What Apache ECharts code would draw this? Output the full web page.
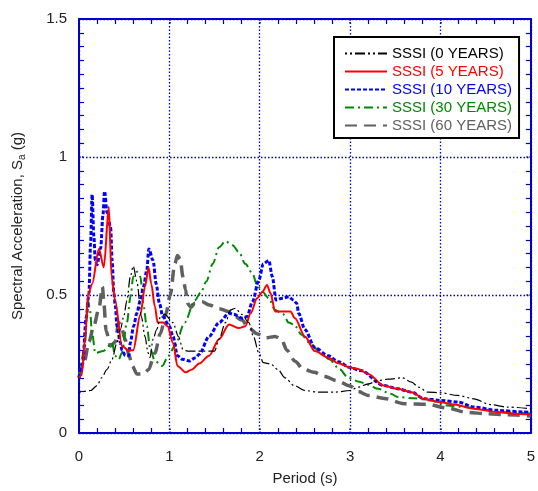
<!DOCTYPE html>
<html><head><meta charset="utf-8">
<script src="https://cdn.jsdelivr.net/npm/echarts@6/dist/echarts.min.js"></script>
<style>html,body{margin:0;padding:0;background:#fff}#c{width:538px;height:491px}</style>
</head><body><div id="c"></div>
<script>
const xTicks = [0, 1, 2, 3, 4, 5];
const yTicks = [0, 0.5, 1, 1.5];
const seriesNames = ['SSSI (0 YEARS)', 'SSSI (5 YEARS)', 'SSSI (10 YEARS)', 'SSSI (30 YEARS)', 'SSSI (60 YEARS)'];

const sssi0 = [[0,0.147],[0.13,0.154],[0.2,0.172],[0.25,0.2],[0.31,0.23],[0.365,0.267],[0.42,0.327],[0.458,0.375],[0.495,0.422],[0.53,0.48],[0.568,0.566],[0.6,0.605],[0.64,0.55],[0.69,0.422],[0.73,0.35],[0.765,0.29],[0.785,0.273],[0.82,0.34],[0.86,0.375],[0.9,0.42],[0.95,0.43],[1.04,0.40],[1.1,0.35],[1.15,0.303],[1.2,0.297],[1.35,0.297],[1.5,0.297],[1.55,0.34],[1.62,0.40],[1.68,0.446],[1.73,0.452],[1.8,0.43],[1.88,0.40],[1.93,0.35],[1.99,0.29],[2.04,0.255],[2.12,0.25],[2.2,0.23],[2.28,0.2],[2.38,0.172],[2.5,0.154],[2.65,0.148],[2.83,0.148],[3.0,0.154],[3.09,0.166],[3.2,0.178],[3.31,0.19],[3.42,0.195],[3.58,0.2],[3.68,0.184],[3.76,0.166],[3.86,0.148],[4.0,0.146],[4.19,0.136],[4.37,0.124],[4.55,0.103],[4.74,0.094],[5.0,0.088]];

const sssi5 = [[0,0.2],[0.03,0.21],[0.07,0.35],[0.1,0.5],[0.145,0.54],[0.22,0.667],[0.275,0.6],[0.33,0.82],[0.36,0.566],[0.4,0.48],[0.475,0.315],[0.55,0.3],[0.6,0.3],[0.68,0.43],[0.73,0.53],[0.77,0.6],[0.8,0.54],[0.84,0.458],[0.87,0.4],[0.93,0.4],[0.98,0.387],[1.04,0.327],[1.09,0.243],[1.18,0.22],[1.25,0.23],[1.33,0.252],[1.44,0.28],[1.55,0.34],[1.66,0.393],[1.77,0.38],[1.84,0.387],[1.9,0.434],[1.97,0.488],[2.03,0.512],[2.08,0.536],[2.12,0.506],[2.17,0.44],[2.26,0.44],[2.34,0.44],[2.39,0.416],[2.5,0.35],[2.61,0.297],[2.76,0.273],[2.87,0.253],[3.0,0.237],[3.09,0.232],[3.2,0.214],[3.37,0.172],[3.53,0.16],[3.68,0.148],[3.82,0.124],[3.99,0.112],[4.15,0.103],[4.37,0.088],[4.63,0.076],[4.81,0.07],[5.0,0.067]];

const sssi10 = [[0,0.2],[0.04,0.25],[0.08,0.42],[0.11,0.506],[0.128,0.685],[0.145,0.864],[0.165,0.71],[0.18,0.626],[0.2,0.61],[0.24,0.67],[0.265,0.79],[0.283,0.876],[0.31,0.8],[0.35,0.745],[0.367,0.625],[0.385,0.506],[0.403,0.458],[0.42,0.387],[0.458,0.327],[0.475,0.3],[0.513,0.28],[0.55,0.28],[0.568,0.327],[0.604,0.387],[0.64,0.434],[0.678,0.48],[0.714,0.53],[0.75,0.59],[0.773,0.667],[0.82,0.625],[0.854,0.54],[0.89,0.47],[0.927,0.422],[1.0,0.387],[1.04,0.35],[1.09,0.28],[1.146,0.267],[1.22,0.261],[1.29,0.273],[1.33,0.285],[1.44,0.35],[1.55,0.4],[1.66,0.434],[1.71,0.43],[1.81,0.416],[1.86,0.422],[1.92,0.476],[1.99,0.554],[2.04,0.613],[2.1,0.625],[2.14,0.566],[2.18,0.482],[2.25,0.488],[2.32,0.494],[2.37,0.482],[2.41,0.47],[2.43,0.434],[2.5,0.375],[2.61,0.309],[2.76,0.28],[2.87,0.258],[3.0,0.237],[3.12,0.226],[3.37,0.172],[3.53,0.16],[3.68,0.148],[3.82,0.124],[4.0,0.118],[4.2,0.112],[4.37,0.094],[4.63,0.082],[4.92,0.076],[5.0,0.075]];

const sssi30 = [[0,0.2],[0.06,0.3],[0.1,0.48],[0.12,0.447],[0.145,0.363],[0.18,0.29],[0.27,0.297],[0.33,0.315],[0.365,0.327],[0.4,0.28],[0.44,0.267],[0.475,0.29],[0.53,0.4],[0.57,0.494],[0.6,0.566],[0.64,0.584],[0.68,0.566],[0.71,0.47],[0.75,0.387],[0.79,0.303],[0.84,0.261],[0.92,0.243],[0.99,0.28],[1.06,0.315],[1.17,0.4],[1.28,0.48],[1.35,0.51],[1.41,0.55],[1.48,0.613],[1.55,0.673],[1.62,0.695],[1.7,0.68],[1.77,0.655],[1.84,0.613],[1.92,0.578],[1.97,0.536],[2.03,0.512],[2.1,0.488],[2.17,0.446],[2.26,0.43],[2.32,0.4],[2.38,0.393],[2.46,0.357],[2.55,0.327],[2.66,0.297],[2.77,0.267],[2.88,0.232],[2.98,0.2],[3.1,0.186],[3.2,0.175],[3.31,0.16],[3.45,0.142],[3.53,0.13],[3.71,0.126],[3.89,0.118],[4.08,0.1],[4.26,0.094],[4.44,0.088],[4.63,0.076],[4.81,0.074],[5.0,0.07]];

const sssi60 = [[0,0.2],[0.06,0.26],[0.11,0.33],[0.165,0.39],[0.22,0.45],[0.26,0.53],[0.275,0.47],[0.3,0.37],[0.35,0.315],[0.4,0.33],[0.44,0.4],[0.47,0.38],[0.51,0.34],[0.55,0.285],[0.59,0.243],[0.64,0.214],[0.72,0.214],[0.77,0.23],[0.84,0.29],[0.9,0.36],[0.96,0.43],[1.01,0.5],[1.06,0.613],[1.09,0.643],[1.12,0.63],[1.15,0.566],[1.18,0.518],[1.2,0.47],[1.24,0.455],[1.28,0.47],[1.36,0.476],[1.44,0.464],[1.55,0.45],[1.66,0.44],[1.8,0.41],[1.88,0.38],[1.97,0.36],[2.07,0.345],[2.17,0.35],[2.24,0.34],[2.3,0.3],[2.39,0.26],[2.48,0.232],[2.6,0.22],[2.72,0.205],[2.85,0.19],[3.0,0.17],[3.09,0.15],[3.2,0.136],[3.38,0.125],[3.6,0.106],[3.85,0.104],[4.08,0.09],[4.3,0.074],[4.52,0.07],[4.74,0.066],[5.0,0.062]];

const seriesData = [sssi0, sssi5, sssi10, sssi30, sssi60];
const colors = ['#000000', '#ff0000', '#0000ff', '#008800', '#606060'];
const styles = [
  {width: 1.2, type: [2, 3, 2, 3, 10, 3]},
  {width: 2, type: 'solid'},
  {width: 3, type: [4, 2]},
  {width: 2, type: [9, 4, 2, 4]},
  {width: 3.5, type: [12, 7]}
];

const axisBlue = '#0000cc';
const font = 'Liberation Sans, Arial, sans-serif';

const chart = echarts.init(document.getElementById('c'), null, {renderer: 'canvas'});
const series = seriesNames.map((n, i) => ({
  name: n, type: 'line', data: seriesData[i], showSymbol: false, symbol: 'none',
  smooth: 0.3, smoothMonotone: 'x',
  lineStyle: Object.assign({color: colors[i]}, styles[i]),
  itemStyle: {color: colors[i]},
  z: 10 - i
}));

function xAx(pos, showLabel) {
  return {
    type: 'value', position: pos, min: xTicks[0], max: xTicks[xTicks.length - 1], interval: 1,
    axisLine: {show: true, onZero: false, lineStyle: {color: axisBlue, width: 2}},
    axisTick: {show: true, inside: true, length: 6, lineStyle: {color: axisBlue, type: 'dotted', width: 1.5}},
    minorTick: {show: true, splitNumber: 5, length: 5, lineStyle: {color: axisBlue, width: 1.2}},
    splitLine: {show: showLabel, lineStyle: {color: axisBlue, type: [1.5, 2], width: 1.3}},
    axisLabel: {show: showLabel, color: '#222', fontSize: 15, fontFamily: font, margin: 16},
    name: showLabel ? 'Period (s)' : '', nameLocation: 'middle', nameGap: 38,
    nameTextStyle: {color: '#222', fontSize: 15, fontFamily: font}
  };
}
function yAx(pos, showLabel) {
  return {
    type: 'value', position: pos, min: yTicks[0], max: yTicks[yTicks.length - 1], interval: 0.5,
    axisLine: {show: true, onZero: false, lineStyle: {color: axisBlue, width: 2}},
    axisTick: {show: true, inside: true, length: 6, lineStyle: {color: axisBlue, type: 'dotted', width: 1.5}},
    minorTick: {show: true, splitNumber: 10, length: 5, lineStyle: {color: axisBlue, width: 1.2}},
    splitLine: {show: showLabel, lineStyle: {color: axisBlue, type: [1.5, 2], width: 1.3}},
    axisLabel: {show: showLabel, color: '#222', fontSize: 15, fontFamily: font, margin: 12,
      formatter: v => String(v)},
    name: showLabel ? 'Spectral Acceleration, S{sub|a} (g)' : '', nameLocation: 'middle', nameGap: 52,
    nameTextStyle: {color: '#222', fontSize: 15, fontFamily: font,
      rich: {sub: {fontSize: 10, fontFamily: font, color: '#222', padding: [8, 0, 0, 0]}}}
  };
}

chart.setOption({
  animation: false,
  backgroundColor: '#fff',
  grid: {left: 79, right: 4, top: 19, bottom: 53},
  xAxis: [xAx('bottom', true), xAx('top', false)],
  yAxis: [yAx('left', true), yAx('right', false)],
  legend: {
    orient: 'vertical', left: 334, top: 37,
    backgroundColor: '#fff', borderColor: '#000', borderWidth: 2,
    padding: [9, 7, 5, 10],
    itemWidth: 42, itemHeight: 15, itemGap: 3,
    itemStyle: {opacity: 0},
    textStyle: {fontSize: 15, fontFamily: font},
    data: seriesNames.map((n, i) => ({name: n, textStyle: {color: colors[i]}}))
  },
  series: series
});
</script></body></html>
